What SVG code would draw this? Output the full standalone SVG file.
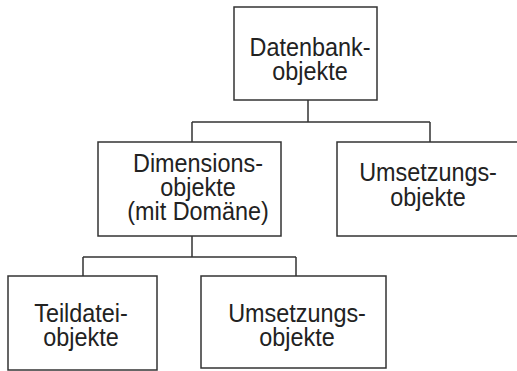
<svg xmlns="http://www.w3.org/2000/svg" width="517" height="371" viewBox="0 0 517 371">
  <style>
    .box { fill: #ffffff; stroke: #333333; stroke-width: 1.5; }
    .wire { fill: none; stroke: #333333; stroke-width: 1.5; }
    .label { font-family: "Liberation Sans", Arial, sans-serif; font-size: 26px; fill: #222222; text-anchor: middle; }
  </style>
  <rect width="517" height="371" fill="#ffffff"/>

  <!-- tree connectors -->
  <g id="connectors">
    <path class="wire" d="M308,100 V122 M192,122 H430 M192,122 V142 M430,122 V142"/>
    <path class="wire" d="M192,236 V257 M83,257 H296 M83,257 V276 M296,257 V276"/>
  </g>

  <!-- labels use a slightly condensed sans: scaled 0.9 horizontally -->
  <g id="datenbank">
    <rect class="box" x="234" y="7" width="143" height="93"/>
    <text class="label" transform="translate(310,56) scale(0.9,1)">Datenbank-</text>
    <text class="label" transform="translate(310,80) scale(0.9,1)">objekte</text>
  </g>

  <g id="dimensionen">
    <rect class="box" x="98" y="142" width="183" height="94"/>
    <text class="label" transform="translate(198,172) scale(0.9,1)">Dimensions-</text>
    <text class="label" transform="translate(198,196) scale(0.9,1)">objekte</text>
    <text class="label" transform="translate(198,220) scale(0.9,1)">(mit Domäne)</text>
  </g>

  <g id="umsetzung-oben">
    <rect class="box" x="337" y="142" width="181" height="94"/>
    <text class="label" transform="translate(428,181) scale(0.9,1)">Umsetzungs-</text>
    <text class="label" transform="translate(428,206) scale(0.9,1)">objekte</text>
  </g>

  <g id="teildatei">
    <rect class="box" x="8" y="276" width="149" height="94"/>
    <text class="label" transform="translate(81,322) scale(0.9,1)">Teildatei-</text>
    <text class="label" transform="translate(81,346) scale(0.9,1)">objekte</text>
  </g>

  <g id="umsetzung-unten">
    <rect class="box" x="201" y="276" width="185" height="92"/>
    <text class="label" transform="translate(297,322) scale(0.9,1)">Umsetzungs-</text>
    <text class="label" transform="translate(297,346) scale(0.9,1)">objekte</text>
  </g>
</svg>
